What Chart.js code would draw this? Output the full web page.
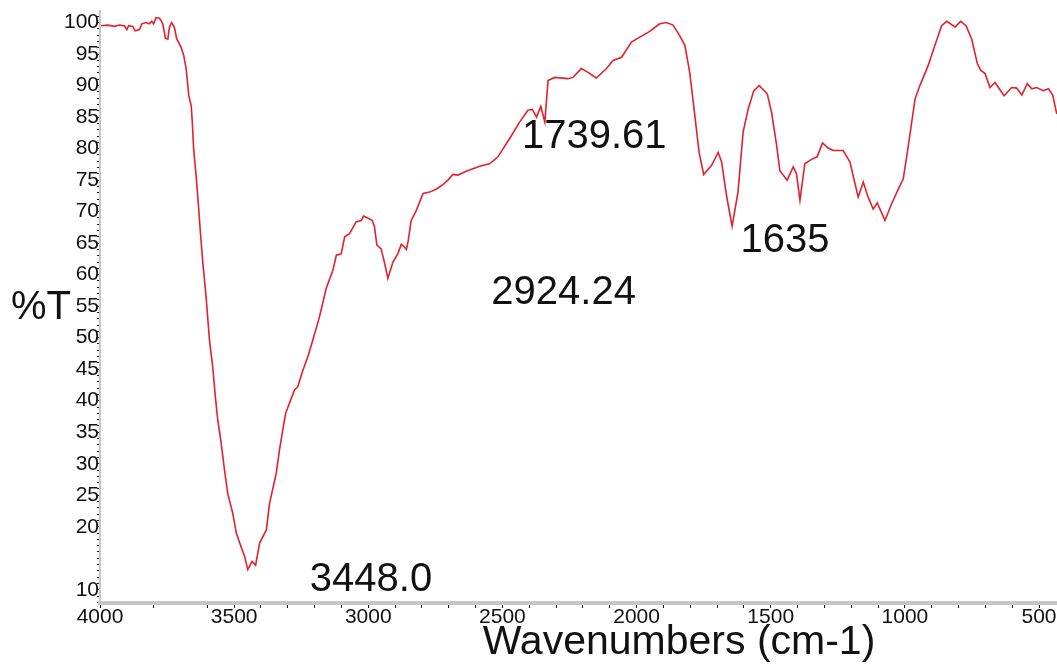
<!DOCTYPE html>
<html>
<head>
<meta charset="utf-8">
<script src="https://cdn.jsdelivr.net/npm/chart.js@4/dist/chart.umd.min.js"></script>
<style>
  html, body { margin: 0; padding: 0; background: #fff; }
  #wrap { width: 1057px; height: 667px; }
</style>
</head>
<body>
<div id="wrap"><canvas id="irChart"></canvas></div>
<script>
    // IR spectrum
    const wavenumbers = [3996, 3971, 3946, 3928, 3909, 3900, 3893, 3878, 3869, 3853, 3844, 3828, 3816, 3807, 3800, 3791, 3778, 3766, 3756, 3747,
      3741, 3733, 3723, 3714, 3698, 3688, 3679, 3669, 3660, 3656, 3651, 3642, 3633, 3626, 3617, 3604, 3592, 3580, 3570, 3561,
      3548, 3536, 3524, 3505, 3492, 3474, 3461, 3449, 3433, 3420, 3405, 3380, 3368, 3343, 3331, 3319, 3308, 3294, 3275, 3263,
      3244, 3225, 3207, 3182, 3157, 3132, 3119, 3101, 3088, 3070, 3045, 3026, 3018, 3002, 2985, 2977, 2968, 2952, 2939, 2927,
      2908, 2890, 2877, 2868, 2858, 2852, 2840, 2821, 2796, 2771, 2746, 2722, 2703, 2685, 2666, 2635, 2585, 2548, 2517, 2473,
      2436, 2405, 2388, 2373, 2357, 2342, 2330, 2305, 2256, 2237, 2206, 2181, 2150, 2112, 2088, 2056, 2019, 1988, 1951, 1914,
      1889, 1864, 1839, 1820, 1802, 1783, 1767, 1750, 1721, 1696, 1683, 1665, 1644, 1622, 1603, 1584, 1563, 1543, 1513, 1497,
      1478, 1466, 1439, 1416, 1404, 1391, 1373, 1348, 1327, 1307, 1286, 1267, 1230, 1205, 1174, 1155, 1137, 1118, 1103, 1074,
      1049, 1021, 1006, 987, 962, 944, 913, 888, 863, 844, 813, 792, 772, 751, 730, 717, 701, 683, 664, 648,
      630, 602, 583, 564, 544, 527, 509, 484, 465, 449, 434];

    const transmittance = [99.5, 99.6, 99.4, 99.6, 99.5, 98.9, 99.5, 99.4, 98.7, 98.9, 99.8, 100.0, 99.8, 100.2, 99.8, 100.8, 100.7, 99.8, 97.5, 97.4,
      99.3, 100.0, 99.3, 97.4, 96.1, 94.8, 92.7, 88.4, 86.8, 84.2, 80.0, 75.8, 71.0, 66.8, 62.0, 56.2, 49.6, 45.4, 40.6, 36.9,
      33.2, 29.0, 25.3, 22.1, 19.0, 16.8, 15.3, 13.2, 14.5, 13.9, 17.4, 19.5, 23.7, 28.5, 32.2, 35.3, 38.0, 39.6, 41.7, 42.2,
      44.8, 47.0, 49.6, 53.3, 57.8, 60.7, 63.1, 63.3, 66.0, 66.5, 68.4, 68.6, 69.3, 69.0, 68.6, 67.6, 64.7, 64.1, 61.8, 59.4,
      62.0, 63.3, 64.8, 64.5, 64.0, 65.2, 68.6, 70.2, 72.9, 73.1, 73.6, 74.3, 75.0, 75.9, 75.8, 76.4, 77.2, 77.6, 78.7, 81.6,
      84.2, 86.1, 86.2, 85.0, 86.7, 84.2, 90.8, 91.3, 91.1, 91.3, 92.7, 92.1, 91.2, 92.7, 94.0, 94.5, 96.9, 97.7, 98.6, 99.8,
      100.0, 99.6, 97.9, 96.4, 92.1, 85.3, 79.4, 75.9, 77.3, 79.4, 77.9, 72.6, 67.7, 73.1, 82.6, 86.3, 89.2, 90.0, 88.7, 85.8,
      80.5, 76.5, 75.0, 77.1, 76.0, 71.8, 77.6, 78.3, 78.7, 80.9, 80.1, 79.7, 79.7, 77.9, 72.3, 74.7, 72.3, 70.4, 71.4, 68.6,
      71.3, 73.9, 75.2, 80.5, 87.9, 90.0, 93.2, 96.4, 99.5, 100.2, 99.3, 100.2, 99.5, 97.4, 93.5, 92.4, 91.9, 89.7, 90.5, 89.5,
      88.4, 89.7, 89.6, 88.5, 90.3, 89.5, 89.7, 89.2, 89.5, 88.5, 85.5];

    // tick labels
    const xTickLabels = [4000, 3500, 3000, 2500, 2000, 1500, 1000, 500];
    const yTickLabels = [100, 95, 90, 85, 80, 75, 70, 65, 60, 55, 50, 45, 40, 35, 30, 25, 20, 10];

    // peak labels and where the text sits (wavenumber, %T)
    const peakText = ['3448.0', '2924.24', '1739.61', '1635'];
    const peakTextX = [2990, 2272, 2158, 1447];
    const peakTextY = [11.6, 57.1, 81.8, 65.3];

    const points = wavenumbers.map((w, i) => ({ x: w, y: transmittance[i] }));

    // minor tick positions
    const xTickValues = [4000, 3800, 3600];
    for (let v = 3500; v >= 500; v -= 100) xTickValues.push(v);
    const yTickValues = [];
    for (let v = 101; v >= 8; v--) yTickValues.push(v);

    const labelFont = '"Liberation Sans", Arial, Helvetica, sans-serif';

    // draws peak labels and the two axis titles as plain text
    const irText = {
      id: 'irText',
      afterDraw(chart) {
        const ctx = chart.ctx;
        const xs = chart.scales.x;
        const ys = chart.scales.y;
        ctx.save();
        ctx.fillStyle = '#111';
        ctx.textBaseline = 'middle';
        ctx.textAlign = 'center';
        ctx.font = '40px ' + labelFont;
        peakText.forEach((t, i) => {
          ctx.fillText(t, xs.getPixelForValue(peakTextX[i]), ys.getPixelForValue(peakTextY[i]));
        });
        ctx.textAlign = 'left';
        ctx.fillText('%T', 11, 308);
        ctx.textAlign = 'center';
        ctx.font = '41px ' + labelFont;
        ctx.fillText('Wavenumbers (cm-1)', 679, 643);
        ctx.restore();
      }
    };

    const irCanvas = document.getElementById('irChart');

    new Chart(irCanvas, {
      type: 'line',
      data: {
        datasets: [
          {
            label: '%T',
            data: points,
            borderColor: '#e3202b',
            borderWidth: 1.6,
            pointRadius: 0,
            tension: 0,
            fill: false
          }
        ]
      },
      options: {
        responsive: true,
        maintainAspectRatio: false,
        animation: false,
        layout: { padding: { top: 10, right: 0, bottom: 0, left: 0 } },
        plugins: {
          legend: { display: false },
          tooltip: { enabled: false }
        },
        scales: {
          x: {
            type: 'linear',
            reverse: true,
            min: 433,
            max: 4000,
            afterBuildTicks: (scale) => { scale.ticks = xTickValues.map(v => ({ value: v })); },
            afterFit: (scale) => { scale.height = 64; },
            border: { color: '#c6c6c6', width: 4 },
            grid: { drawOnChartArea: false, color: '#111', tickLength: 5, lineWidth: 1 },
            ticks: {
              autoSkip: false,
              maxRotation: 0,
              padding: -3,
              color: '#111',
              font: { family: labelFont, size: 21 },
              callback: (v) => xTickLabels.includes(v) ? String(v) : ''
            }
          },
          y: {
            type: 'linear',
            min: 7.9,
            max: 101.9,
            afterBuildTicks: (scale) => { scale.ticks = yTickValues.map(v => ({ value: v })); },
            afterFit: (scale) => { scale.width = 100; },
            border: { color: '#c6c6c6', width: 2 },
            grid: { drawOnChartArea: false, color: '#111', tickLength: 3, lineWidth: 1 },
            ticks: {
              autoSkip: false,
              padding: -2,
              color: '#111',
              font: { family: labelFont, size: 21 },
              callback: (v) => yTickLabels.includes(v) ? String(v) : ''
            }
          }
        }
      },
      plugins: [irText]
    });
</script>
</body>
</html>
